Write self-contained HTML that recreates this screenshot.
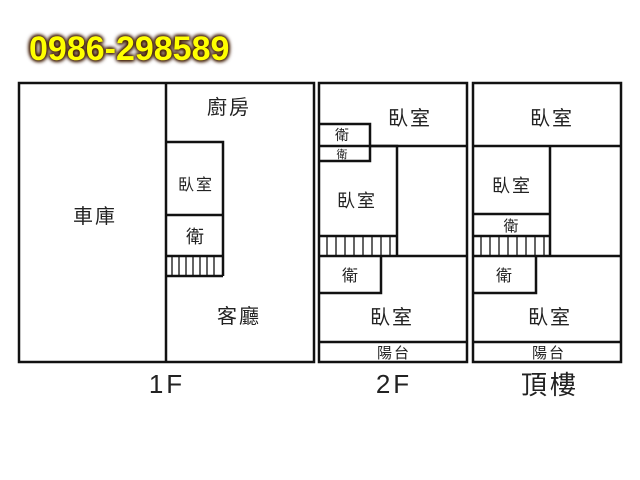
<!DOCTYPE html>
<html><head><meta charset="utf-8"><style>
body{margin:0;background:#fff;width:640px;height:480px;overflow:hidden;position:relative}
.ph{position:absolute;left:29px;top:30px;font:bold 34px "Liberation Sans",sans-serif;color:#ffff00;
text-shadow:0 0 3px #3a1a00,0 0 5px #5a2a10,1px 1px 4px #3a1a00,-1px -1px 4px #3a1a00;}
</style></head><body>
<div class="ph">0986-298589</div>
<svg width="640" height="480" style="position:absolute;left:0;top:0" font-family="Liberation Sans, Noto Sans CJK TC, sans-serif">
<g fill="none" stroke="#111" stroke-width="2.5">
<rect x="19" y="83" width="295" height="279"/>
<line x1="166" y1="83" x2="166" y2="362"/>
<polyline points="166,142 223,142 223,276"/>
<line x1="166" y1="215" x2="223" y2="215"/>
<line x1="166" y1="256" x2="223" y2="256"/>
<line x1="166" y1="276" x2="223" y2="276"/>
<rect x="319" y="83" width="148" height="279"/>
<line x1="319" y1="146" x2="467" y2="146"/>
<polyline points="319,124 370,124 370,161 319,161"/>
<polyline points="370,146 397,146 397,256"/>
<line x1="319" y1="236" x2="397" y2="236"/>
<line x1="319" y1="256" x2="467" y2="256"/>
<polyline points="381,256 381,293 319,293"/>
<line x1="319" y1="342" x2="467" y2="342"/>
<rect x="473" y="83" width="148" height="279"/>
<line x1="473" y1="146" x2="621" y2="146"/>
<line x1="550" y1="146" x2="550" y2="256"/>
<line x1="473" y1="214" x2="550" y2="214"/>
<line x1="473" y1="236" x2="550" y2="236"/>
<line x1="473" y1="256" x2="621" y2="256"/>
<polyline points="536,256 536,293 473,293"/>
<line x1="473" y1="342" x2="621" y2="342"/>
</g>
<g stroke="#111" stroke-width="1.3">
<path d="M172 256v20M179 256v20M186 256v20M193 256v20M200 256v20M207 256v20M214 256v20"/>
<path d="M327 236v20M336 236v20M345 236v20M354 236v20M363 236v20M372 236v20M381 236v20M390 236v20"/>
<path d="M481 236v20M490 236v20M499 236v20M508 236v20M517 236v20M526 236v20M535 236v20M544 236v20"/>
</g>
<g fill="#222" text-anchor="middle" letter-spacing="2">
<text x="95" y="223" font-size="20">車庫</text>
<text x="229" y="114" font-size="20">廚房</text>
<text x="196" y="190" font-size="16">臥室</text>
<text x="196" y="243" font-size="18">衛</text>
<text x="239" y="323" font-size="20">客廳</text>
<text x="410" y="125" font-size="20">臥室</text>
<text x="343" y="140" font-size="14">衛</text>
<text x="343" y="158" font-size="11">衛</text>
<text x="357" y="207" font-size="18">臥室</text>
<text x="351" y="281" font-size="16">衛</text>
<text x="392" y="324" font-size="20">臥室</text>
<text x="394" y="358" font-size="15">陽台</text>
<text x="552" y="125" font-size="20">臥室</text>
<text x="512" y="192" font-size="18">臥室</text>
<text x="512" y="231" font-size="15">衛</text>
<text x="505" y="281" font-size="16">衛</text>
<text x="550" y="324" font-size="20">臥室</text>
<text x="549" y="358" font-size="15">陽台</text>
</g>
<g fill="#222" text-anchor="middle" letter-spacing="3">
<text x="167" y="393" font-size="26">1F</text>
<text x="394" y="393" font-size="26">2F</text>
<text x="550" y="394" font-size="26">頂樓</text>
</g>
</svg>
</body></html>
